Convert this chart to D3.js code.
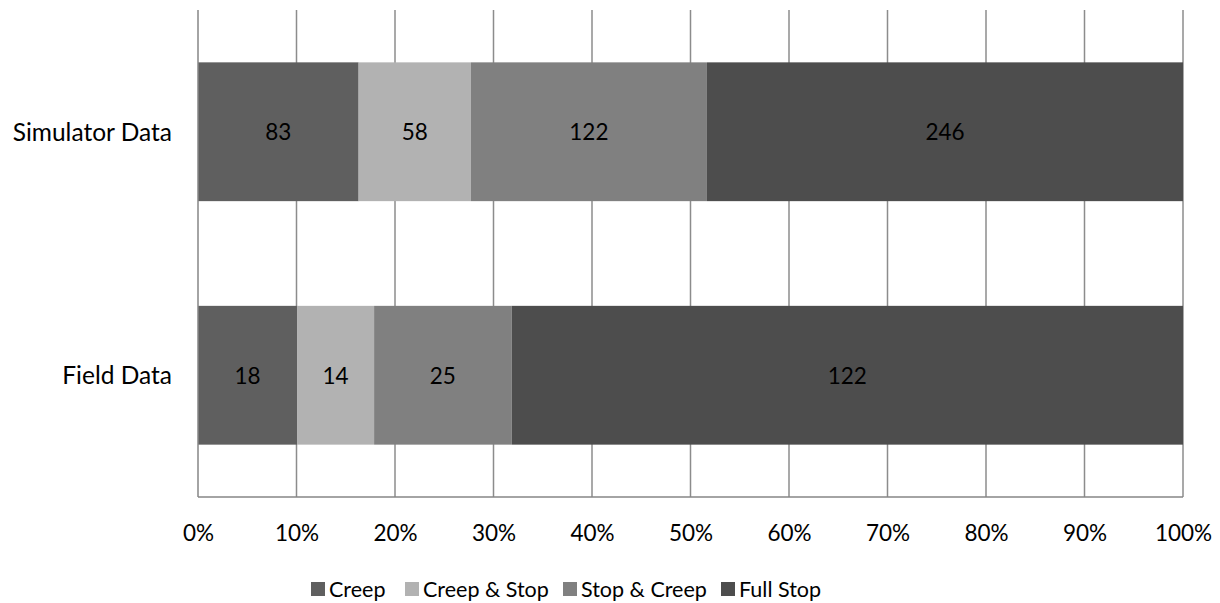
<!DOCTYPE html>
<html><head><meta charset="utf-8">
<script src="https://cdn.jsdelivr.net/npm/d3@7"></script>
<style>body{margin:0;background:#fff}svg{display:block}text{font-family:Lato,"Open Sans",sans-serif;fill:#000}</style>
</head><body>
<svg id="c" width="1220" height="603"></svg>
<script>
const categories = ["Simulator Data", "Field Data"];
const seriesNames = ["Creep", "Creep & Stop", "Stop & Creep", "Full Stop"];
const creep = [83, 18];
const creepStop = [58, 14];
const stopCreep = [122, 25];
const fullStop = [246, 122];
const tickValues = [0, .1, .2, .3, .4, .5, .6, .7, .8, .9, 1];
const colors = ["#5f5f5f", "#b2b2b2", "#808080", "#4d4d4d"];

const svg = d3.select("#c");
const m = {l: 198, r: 1183, t: 10, b: 497};
const x = d3.scaleLinear().domain([0, 1]).range([m.l, m.r]);
const y = d3.scaleBand().domain(categories).range([m.t, m.b]).paddingInner(0.43).paddingOuter(0.215);

const series = [creep, creepStop, stopCreep, fullStop];
const rows = categories.map((c, i) => {
  const vals = series.map(s => s[i]);
  const tot = d3.sum(vals);
  let acc = 0;
  return vals.map((v, j) => { const r = {cat: c, v, j, x0: acc / tot, x1: (acc + v) / tot}; acc += v; return r; });
});

// gridlines
svg.append("g").selectAll("line").data(tickValues.slice(1)).join("line")
  .attr("x1", d => x(d)).attr("x2", d => x(d)).attr("y1", m.t).attr("y2", m.b)
  .attr("stroke", "#8c8c8c").attr("stroke-width", 1.5);

// bars
const g = svg.append("g");
rows.flat().forEach(d => {
  g.append("rect").attr("x", x(d.x0)).attr("width", x(d.x1) - x(d.x0))
    .attr("y", y(d.cat)).attr("height", y.bandwidth()).attr("fill", colors[d.j]);
  g.append("text").attr("x", (x(d.x0) + x(d.x1)) / 2).attr("y", y(d.cat) + y.bandwidth() / 2)
    .attr("text-anchor", "middle").attr("dy", "0.38em").attr("font-size", 22.5).text(d.v);
});

// axes lines
svg.append("line").attr("x1", m.l).attr("x2", m.l).attr("y1", m.t).attr("y2", m.b).attr("stroke", "#868686").attr("stroke-width", 1.5);
svg.append("line").attr("x1", m.l).attr("x2", m.r).attr("y1", m.b).attr("y2", m.b).attr("stroke", "#868686").attr("stroke-width", 1.5);

// x tick labels
const xa = d3.axisBottom(x).tickValues(tickValues).tickFormat(d3.format(".0%")).tickSize(0).tickPadding(0);
const ax = svg.append("g").attr("transform", `translate(0,541)`).call(xa);
ax.select(".domain").remove();
ax.selectAll("text").attr("font-size", 22.5).attr("dy", "0").attr("y", 0).style("font-family", "Lato,'Open Sans',sans-serif");

// y labels
const ya = d3.axisLeft(y).tickSize(0).tickPadding(26);
const ay = svg.append("g").attr("transform", `translate(${m.l},0)`).call(ya);
ay.select(".domain").remove();
ay.selectAll("text").attr("font-size", 24.5).attr("dy", "0.36em").style("font-family", "Lato,'Open Sans',sans-serif");

// legend
const legX = [311, 405, 563, 721];
const lg = svg.append("g");
seriesNames.forEach((n, i) => {
  lg.append("rect").attr("x", legX[i]).attr("y", 582).attr("width", 14).attr("height", 14).attr("fill", colors[i]);
  lg.append("text").attr("x", legX[i] + 18).attr("y", 597).attr("font-size", 21.5).text(n);
});
</script>
</body></html>
